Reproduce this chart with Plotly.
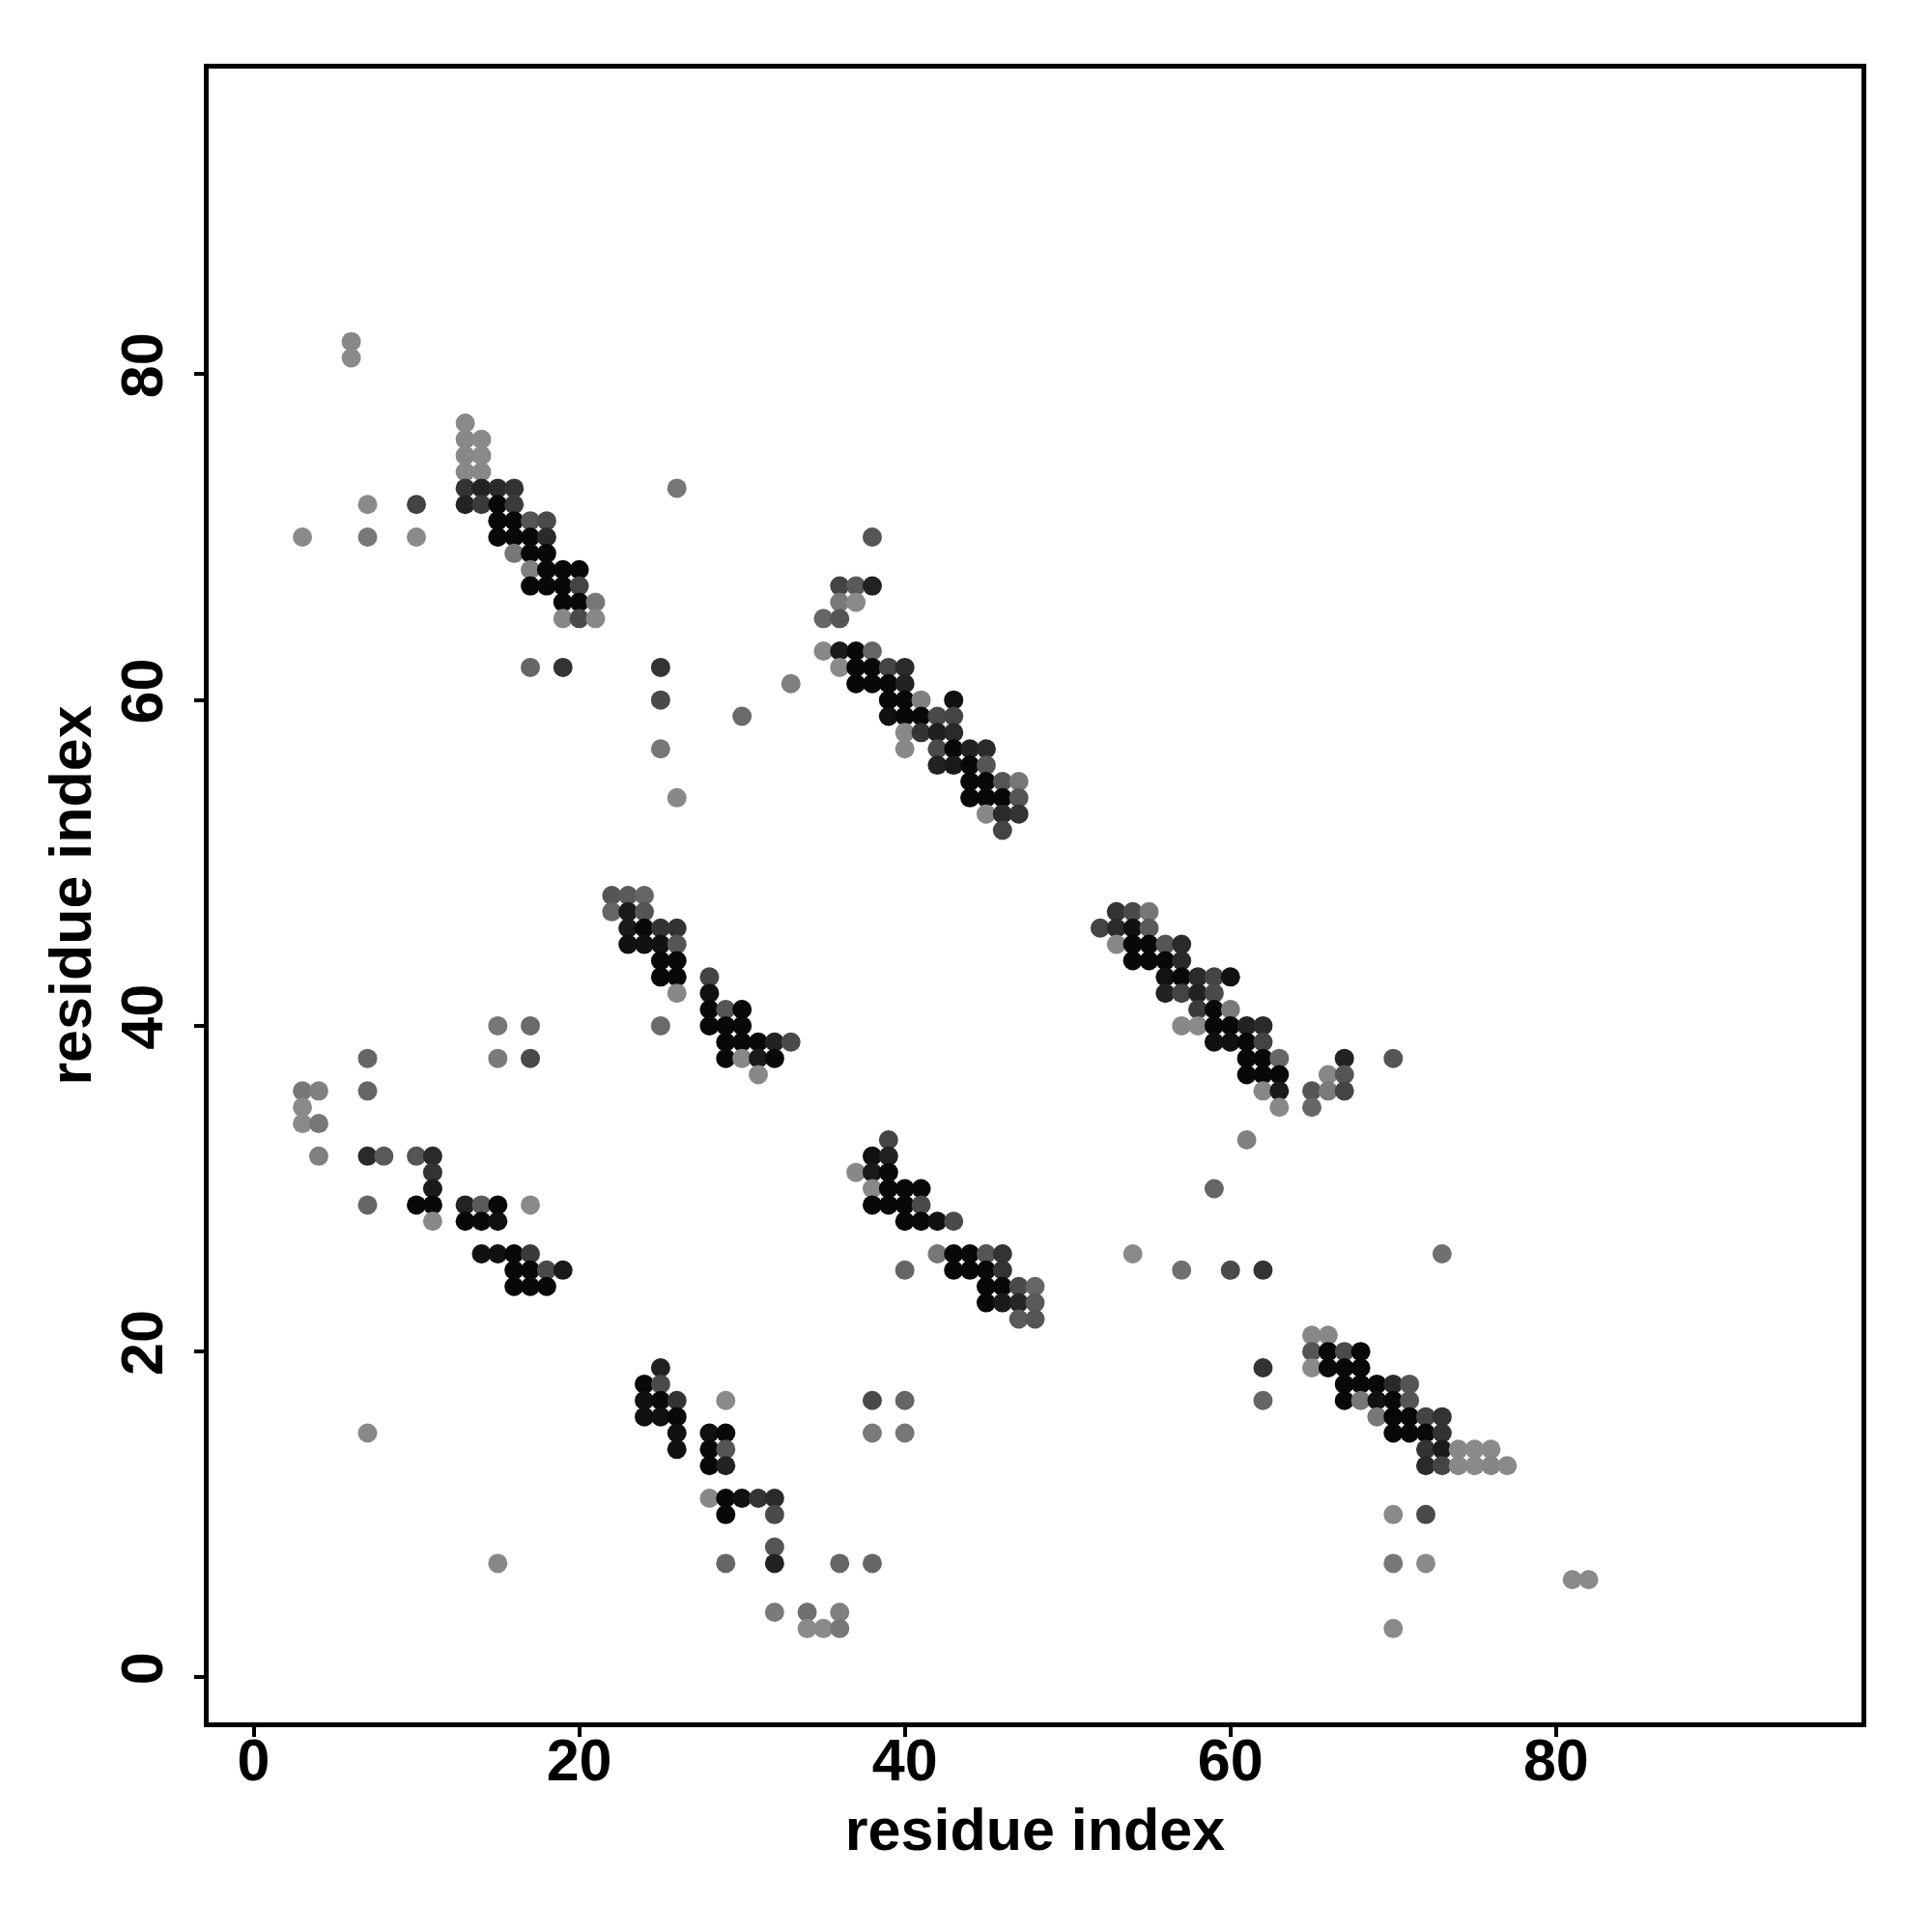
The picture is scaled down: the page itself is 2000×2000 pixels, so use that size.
import plotly.graph_objects as go

# contact map: residue i (x), residue j (y), gray shade (0 = black, 255 = white)
res_i = [
    6, 6, 13, 13, 14, 13, 14, 13, 14, 13, 14, 15, 16, 26, 7, 10, 13, 14, 15, 16,
    15, 16, 17, 18, 3, 7, 10, 15, 16, 17, 18, 16, 17, 18, 17, 18, 19, 20, 17, 18,
    19, 20, 19, 20, 21, 19, 20, 21, 17, 19, 25, 25, 30, 25, 26,
    38, 36, 37, 38, 36, 37, 35, 36, 35, 36, 37, 38, 36, 37, 38, 39, 40, 33, 37, 38,
    39, 40, 39, 40, 41, 43, 39, 40, 41, 42, 43, 40, 41, 42, 43, 40, 42, 43, 44, 45,
    42, 43, 44, 45, 44, 45, 46, 47, 44, 45, 46, 47, 45, 46, 47, 46,
    22, 23, 24, 22, 23, 24, 23, 24, 25, 26, 23, 24, 25, 26, 25, 26, 25, 26, 28, 26,
    28, 28, 29, 30, 28, 29, 30, 29, 30, 31, 32, 33, 29, 30, 31, 32, 31,
    15, 17, 25, 7, 15, 17, 3, 4, 7, 3, 3, 4, 4, 7, 8, 10, 11, 11, 11, 7,
    10, 11, 13, 14, 15, 17, 11, 13, 14, 15, 14, 15, 16, 17, 16, 17, 18, 19, 16, 17, 18,
    39, 38, 39, 37, 38, 39, 38, 39, 40, 41, 38, 39, 40, 41, 40, 41, 42, 43, 42, 43,
    44, 45, 46, 40, 43, 44, 45, 46, 45, 46, 47, 48, 45, 46, 47, 48, 47, 48,
    53, 54, 55, 52, 53, 54, 55, 53, 54, 55, 56, 57, 54, 55, 56, 57, 56, 57, 58, 59,
    60, 56, 57, 58, 59, 58, 59, 60, 57, 58, 59, 60, 61, 62, 59, 60, 61, 62, 61, 62,
    63, 67, 70, 61, 62, 63, 66, 67, 62, 63, 65, 66, 67, 63, 65, 61, 59, 54, 73, 57,
    60, 62,
    25, 24, 25, 24, 25, 26, 29, 38, 40, 24, 25, 26, 7, 26, 28, 29, 38, 40, 26, 28,
    29, 28, 29, 28, 29, 30, 31, 32, 29, 32, 32, 15, 29, 32, 36, 38, 32, 34, 36, 34,
    35, 36,
    65, 66, 65, 66, 67, 68, 62, 65, 66, 67, 68, 67, 68, 69, 70, 71, 62, 67, 68, 69,
    70, 71, 69, 70, 71, 72, 73, 70, 71, 72, 73, 72, 73, 74, 75, 76, 72, 73, 74, 75,
    76, 77, 70, 72, 70, 72, 81, 82, 70,
]

res_j = [
    82, 81, 77, 76, 76, 75, 75, 74, 74, 73, 73, 73, 73, 73, 72, 72, 72, 72, 72, 72,
    71, 71, 71, 71, 70, 70, 70, 70, 70, 70, 70, 69, 69, 69, 68, 68, 68, 68, 67, 67,
    67, 67, 66, 66, 66, 65, 65, 65, 62, 62, 62, 60, 59, 57, 54,
    70, 67, 67, 67, 66, 66, 65, 65, 63, 63, 63, 63, 62, 62, 62, 62, 62, 61, 61, 61,
    61, 61, 60, 60, 60, 60, 59, 59, 59, 59, 59, 58, 58, 58, 58, 57, 57, 57, 57, 57,
    56, 56, 56, 56, 55, 55, 55, 55, 54, 54, 54, 54, 53, 53, 53, 52,
    48, 48, 48, 47, 47, 47, 46, 46, 46, 46, 45, 45, 45, 45, 44, 44, 43, 43, 43, 42,
    42, 41, 41, 41, 40, 40, 40, 39, 39, 39, 39, 39, 38, 38, 38, 38, 37,
    40, 40, 40, 38, 38, 38, 36, 36, 36, 35, 34, 34, 32, 32, 32, 32, 32, 31, 30, 29,
    29, 29, 29, 29, 29, 29, 28, 28, 28, 28, 26, 26, 26, 26, 25, 25, 25, 25, 24, 24, 24,
    33, 32, 32, 31, 31, 31, 30, 30, 30, 30, 29, 29, 29, 29, 28, 28, 28, 28, 26, 26,
    26, 26, 26, 25, 25, 25, 25, 25, 24, 24, 24, 24, 23, 23, 23, 23, 22, 22,
    47, 47, 47, 46, 46, 46, 46, 45, 45, 45, 45, 45, 44, 44, 44, 44, 43, 43, 43, 43,
    43, 42, 42, 42, 42, 41, 41, 41, 40, 40, 40, 40, 40, 40, 39, 39, 39, 39, 38, 38,
    38, 38, 38, 37, 37, 37, 37, 37, 36, 36, 36, 36, 36, 35, 35, 33, 30, 26, 26, 25,
    25, 25,
    19, 18, 18, 17, 17, 17, 17, 17, 17, 16, 16, 16, 15, 15, 15, 15, 15, 15, 14, 14,
    14, 13, 13, 11, 11, 11, 11, 11, 10, 10, 8, 7, 7, 7, 7, 7, 4, 4, 4, 3,
    3, 3,
    21, 21, 20, 20, 20, 20, 19, 19, 19, 19, 19, 18, 18, 18, 18, 18, 17, 17, 17, 17,
    17, 17, 16, 16, 16, 16, 16, 15, 15, 15, 15, 14, 14, 14, 14, 14, 13, 13, 13, 13,
    13, 13, 10, 10, 7, 7, 6, 6, 3,
]

shade = [
    136, 138, 138, 136, 138, 136, 138, 136, 136, 51, 34, 42, 51, 119, 138, 68, 34, 58, 8, 58,
    8, 8, 85, 74, 138, 119, 138, 8, 8, 8, 42, 119, 8, 8, 128, 8, 8, 8, 8, 8,
    8, 68, 8, 8, 119, 136, 74, 136, 102, 51, 51, 74, 106, 119, 136,
    85, 68, 90, 34, 122, 138, 102, 85, 136, 26, 8, 102, 138, 8, 8, 68, 42, 128, 8, 8,
    8, 34, 8, 8, 128, 17, 17, 8, 8, 74, 68, 136, 51, 30, 42, 136, 74, 8, 34, 42,
    34, 26, 8, 85, 8, 8, 85, 119, 8, 8, 8, 85, 136, 42, 51, 68,
    85, 90, 102, 102, 26, 85, 26, 8, 51, 51, 17, 17, 17, 85, 8, 8, 8, 8, 68, 136,
    17, 8, 85, 8, 8, 8, 8, 8, 8, 8, 34, 74, 8, 136, 26, 8, 136,
    119, 106, 106, 102, 122, 74, 119, 128, 102, 138, 138, 119, 128, 42, 90, 85, 42, 51, 26, 102,
    8, 8, 34, 90, 8, 138, 136, 8, 8, 17, 17, 17, 8, 58, 8, 8, 74, 26, 8, 8, 8,
    68, 17, 34, 136, 26, 8, 136, 8, 8, 8, 8, 8, 8, 74, 8, 8, 17, 74, 119, 8,
    8, 85, 51, 102, 8, 8, 8, 51, 8, 8, 74, 102, 8, 26, 38, 90, 90, 85,
    51, 74, 119, 68, 42, 17, 90, 136, 8, 8, 85, 42, 8, 8, 8, 42, 17, 8, 42, 68,
    17, 34, 68, 34, 74, 58, 8, 122, 136, 138, 8, 8, 34, 42, 17, 17, 8, 68, 8, 8,
    102, 34, 85, 8, 8, 8, 136, 85, 136, 26, 85, 122, 68, 136, 102, 128, 102, 138, 112, 112,
    74, 51,
    34, 8, 74, 17, 8, 51, 138, 74, 102, 17, 17, 8, 136, 17, 17, 8, 122, 119, 17, 8,
    85, 8, 34, 136, 8, 17, 51, 42, 8, 74, 85, 136, 102, 34, 102, 102, 122, 112, 128, 138,
    138, 119,
    136, 136, 85, 8, 74, 8, 51, 138, 8, 8, 8, 8, 8, 8, 42, 85, 102, 8, 119, 17,
    8, 85, 119, 8, 8, 68, 51, 8, 8, 8, 51, 51, 26, 136, 138, 138, 42, 68, 136, 138,
    133, 138, 138, 74, 119, 138, 138, 138, 138,
]

axis_ticks = [0, 20, 40, 60, 80]
axis_range = [-2.76, 98.76]

colors = [f"rgb({g},{g},{g})" for g in shade]

fig = go.Figure(
    go.Scatter(
        x=res_i,
        y=res_j,
        mode="markers",
        marker=dict(size=20, color=colors, line=dict(width=0)),
        hoverinfo="x+y",
    )
)

font_family = "Liberation Sans, Arial, Helvetica, sans-serif"
tick_font = dict(family=font_family, size=61, color="black", weight="bold")
title_font = dict(family=font_family, size=61, color="black", weight="bold")

common = dict(
    range=axis_range,
    tickvals=axis_ticks,
    ticktext=[str(t) for t in axis_ticks],
    showgrid=False,
    zeroline=False,
    showline=True,
    linecolor="black",
    linewidth=5,
    mirror=True,
    ticks="outside",
    ticklen=10,
    tickwidth=4,
    tickcolor="black",
    tickfont=tick_font,
)

fig.update_xaxes(
    **common,
    ticklabelstandoff=-28,
    title=dict(text="residue index", font=title_font, standoff=19),
)
fig.update_yaxes(
    **common,
    tickangle=-90,
    ticklabelstandoff=9,
    title=dict(text="residue index", font=title_font, standoff=0),
)

# page body has an 8px default margin, so the margins are offset by it
fig.update_layout(
    width=2000,
    height=2000,
    margin=dict(l=208, r=81, t=63, b=225, autoexpand=False),
    plot_bgcolor="white",
    paper_bgcolor="white",
    showlegend=False,
)

fig.write_html("out.html")
